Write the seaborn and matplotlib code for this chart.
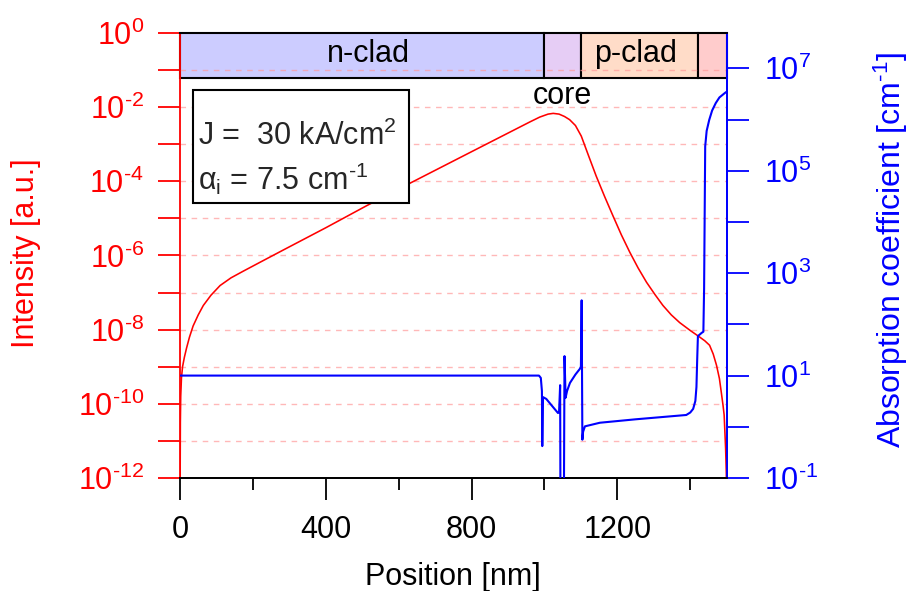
import matplotlib
matplotlib.use("Agg")
import matplotlib.pyplot as plt
import seaborn as sns
import pandas as pd
from matplotlib.patches import Rectangle
from matplotlib.transforms import blended_transform_factory

# ---------------- data ----------------
red_x = [0, 1, 2, 4, 7, 12, 18, 26, 36, 50, 64, 85, 110, 140, 174, 220, 283, 400, 512,
         631, 800, 960, 987, 1000, 1010, 1024, 1040, 1055, 1069, 1085, 1101, 1120, 1142,
         1165, 1188, 1211, 1234, 1257, 1280, 1303, 1325, 1348, 1371, 1400, 1426, 1440,
         1453, 1463, 1472, 1480, 1485, 1490, 1493, 1497, 1499, 1500]
red_y = [1e-13, 3.2e-11, 1.6e-10, 5.0e-10, 1.0e-9, 1.8e-9, 3.2e-9, 6.3e-9, 1.26e-8,
         2.5e-8, 4.5e-8, 8.5e-8, 1.55e-7, 2.5e-7, 3.8e-7, 6.6e-7, 1.4e-6, 5.6e-6, 2.2e-5,
         8.9e-5, 6.3e-4, 4.0e-3, 5.4e-3, 6.0e-3, 6.5e-3, 6.8e-3, 6.5e-3, 5.6e-3, 4.6e-3,
         3.2e-3, 1.66e-3, 5.2e-4, 1.38e-4, 3.9e-5, 1.17e-5, 3.6e-6, 1.23e-6, 4.6e-7, 1.9e-7,
         8.9e-8, 4.5e-8, 2.5e-8, 1.55e-8, 9.5e-9, 6.3e-9, 5.0e-9, 3.8e-9, 2.2e-9, 1.1e-9,
         4.8e-10, 2.1e-10, 9.0e-11, 5.0e-11, 6.3e-12, 1.26e-12, 1e-13]

blue_x = [0, 985, 990, 993, 994, 996, 1005, 1020, 1037, 1040, 1043, 1044, 1053, 1055, 1058,
          1062, 1070, 1085, 1097, 1100, 1102, 1104, 1106, 1111, 1152, 1250, 1389, 1400,
          1408, 1414, 1417, 1419, 1421, 1431, 1436, 1438, 1441, 1445, 1452, 1460, 1470,
          1480, 1495, 1500]
blue_y = [10, 10, 9, 5, 0.42, 3.8, 3.5, 2.6, 1.86, 1.9, 6.5, 0.01, 0.01, 24, 3.7, 5.0, 7.2,
          10.5, 13.5, 15, 295, 0.56, 0.8, 1.02, 1.2, 1.4, 1.7, 1.9, 2.24, 3.2, 6, 20, 59,
          68, 72, 500, 3e5, 6e5, 9.8e5, 1.5e6, 2.1e6, 2.7e6, 3.3e6, 3.5e6]

regions = ["n-clad", "core", "p-clad", "contact"]
region_start = [0, 1000, 1100, 1420]
region_end = [1000, 1100, 1420, 1500]
region_colors = ["#ccccff", "#e6cdf5", "#ffdcc8", "#ffcccc"]
region_labels = ["n-clad", "", "p-clad", ""]
region_label_x = [516, 0, 1251, 0]

left_exps = list(range(-12, 1))
right_exps = list(range(-1, 8))
x_major = [0, 400, 800, 1200]
x_minor = [200, 600, 1000, 1400]

# ---------------- style ----------------
sns.set_theme(style="ticks")
plt.rcParams["font.family"] = ["Liberation Sans", "DejaVu Sans"]
plt.rcParams["mathtext.fontset"] = "custom"
plt.rcParams["mathtext.rm"] = "Liberation Sans"
plt.rcParams["mathtext.it"] = "Liberation Sans:italic"
plt.rcParams["mathtext.default"] = "regular"

RED = "#ff0000"
BLUE = "#0000ff"
FS = 22
HY = "\u2010"

fig = plt.figure(figsize=(9.1, 5.91), dpi=100)
ax = fig.add_axes([180 / 910, 1 - 478 / 591, (726.7 - 180) / 910, (478 - 33) / 591])
ax2 = ax.twinx()

df_r = pd.DataFrame({"pos": red_x, "I": red_y})
df_b = pd.DataFrame({"pos": blue_x, "a": blue_y})

sns.lineplot(data=df_r, x="pos", y="I", ax=ax, color=RED, lw=1.15, sort=False,
             estimator=None, zorder=3)
sns.lineplot(data=df_b, x="pos", y="a", ax=ax2, color=BLUE, lw=1.5, sort=False,
             estimator=None, zorder=3)

ax.set_yscale("log")
ax2.set_yscale("log")
ax.set_xlim(0, 1500)
ax.set_ylim(1e-12, 1.0)
ax2.set_ylim(1e-1, 10 ** 7.69)

# grid lines (pink dashed, at each left decade)
for k in range(-11, 0):
    ax.axhline(10.0 ** k, color="#ff9a9a", lw=1.0, ls=(0, (4, 4)), alpha=0.7, zorder=2)

# region band
trans = blended_transform_factory(ax.transData, ax.transAxes)
for s, e, c, lab, lx in zip(region_start, region_end, region_colors, region_labels,
                            region_label_x):
    ax.add_patch(Rectangle((s, 0.9), e - s, 0.1, transform=trans, facecolor=c,
                           edgecolor="black", lw=1.5, zorder=1.5, clip_on=False))
    if lab:
        ax.text(lx, 0.953, lab, transform=trans, ha="center", va="center", fontsize=FS,
                color="black", zorder=4)
ax.text(1048, 0.893, "core", transform=trans, ha="center", va="top", fontsize=FS,
        color="black", zorder=4)

# info box
ax.add_patch(Rectangle((0.024, 0.618), 0.395, 0.254, transform=ax.transAxes,
                       facecolor="white", edgecolor="black", lw=1.5, zorder=10))
ax.text(0.033, 0.748, "J =  30 kA/cm$^{2}$", transform=ax.transAxes, fontsize=FS,
        va="baseline", ha="left", zorder=11)
ax.text(0.033, 0.647, "$\\alpha_{i}$ = 7.5 cm$^{" + HY + "1}$",
        transform=ax.transAxes, fontsize=FS, va="baseline", ha="left", zorder=11)

# ticks
def sup(k):
    return "$10^{" + (HY if k < 0 else "") + str(abs(k)) + "}$"

ax.set_xticks(x_major)
ax.set_xticks(x_minor, minor=True)
ax.set_xticklabels([str(v) for v in x_major])
ax.set_yticks([10.0 ** k for k in left_exps])
ax.set_yticklabels([sup(k) if k % 2 == 0 else "" for k in left_exps])
ax.yaxis.set_minor_locator(matplotlib.ticker.NullLocator())
ax2.set_yticks([10.0 ** k for k in right_exps])
ax2.set_yticklabels([sup(k) if k % 2 == 1 else "" for k in right_exps])
ax2.yaxis.set_minor_locator(matplotlib.ticker.NullLocator())

ax.tick_params(axis="x", which="major", direction="out", length=16, width=1.3,
               labelsize=FS, pad=11, color="black", labelcolor="black")
ax.tick_params(axis="x", which="minor", direction="out", length=8.5, width=1.3, color="black")
ax.tick_params(axis="y", which="major", direction="out", length=16, width=1.3,
               labelsize=FS, pad=10, color=RED, labelcolor=RED)
ax2.tick_params(axis="y", which="major", direction="out", length=16, width=1.3,
                labelsize=FS, pad=11, color=BLUE, labelcolor=BLUE)

for a in (ax, ax2):
    a.spines["left"].set_color(RED)
    a.spines["right"].set_color(BLUE)
    a.spines["top"].set_color("black")
    a.spines["bottom"].set_color("black")
    for sp in a.spines.values():
        sp.set_linewidth(1.3)
    a.spines["top"].set_visible(True)
    a.spines["right"].set_visible(True)
ax2.spines["left"].set_visible(False)

ax.set_xlabel("Position [nm]", fontsize=FS, color="black")
ax.set_ylabel("Intensity [a.u.]", fontsize=FS, color=RED)
ax2.set_ylabel("Absorption coefficient [cm$^{" + HY + "1}$]", fontsize=23, color=BLUE)
ax.xaxis.label.set_va("center")
ax.yaxis.label.set_va("center")
ax2.yaxis.label.set_va("center")
ax.xaxis.set_label_coords(0.5, -0.2225)
ax.yaxis.set_label_coords(-0.2817, 0.505)
ax2.yaxis.set_label_coords(1.3, 0.512)

fig.savefig("out.png", dpi=100)
